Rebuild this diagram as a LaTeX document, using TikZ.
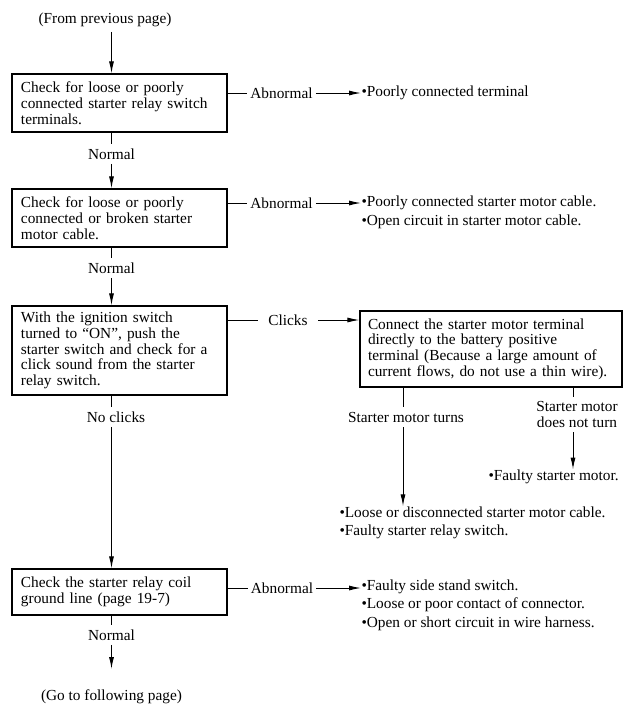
\documentclass[tikz,border=0pt]{standalone}
\usepackage{fontspec}
\setmainfont{Liberation Serif}
\usetikzlibrary{arrows.meta}

\begin{document}
\begin{tikzpicture}[x=0.75pt, y=-0.75pt, >={Latex[length=9pt,width=3.75pt]},
        every node/.style={font=\fontsize{11.5}{11.8}\selectfont},
        checkbox/.style={draw, line width=0.9pt, align=left, inner xsep=6.75pt, inner ysep=0pt, text width=147.75pt},
        answer/.style={inner xsep=2pt, inner ysep=3pt},
        result/.style={align=left, inner sep=0pt, anchor=west, font=\fontsize{11.5}{13.9}\selectfont},
        every path/.style={line width=0.75pt}]
    \useasboundingbox (0,0) rectangle (642,719);

    \coordinate (spine) at (111.5,0);
    \coordinate (lft) at (403,0);
    \coordinate (rgt) at (573,0);

    % check boxes
    \node (from) at (105,20) {(From previous page)};
    \node[checkbox, minimum height=43.5pt] (chk1) at (119.5,103) {Check for loose or poorly\\connected starter relay switch\\terminals.};
    \node[checkbox, minimum height=43.5pt] (chk2) at (119.5,218) {Check for loose or poorly\\connected or broken starter\\motor cable.};
    \node[checkbox, minimum height=66.75pt] (chk3) at (119.5,350.5) {With the ignition switch\\turned to ``ON'', push the\\starter switch and check for a\\click sound from the starter\\relay switch.};
    \node[checkbox, minimum height=57pt, text width=184.5pt, inner xsep=6pt] (chk4) at (491,349) {Connect the starter motor terminal\\directly to the battery positive\\terminal (Because a large amount of\\current flows, do not use a thin wire).};
    \node[checkbox, minimum height=34.5pt] (chk5) at (119.5,592) {Check the starter relay coil\\ground line (page 19-7)};
    \node (goto) at (111.5,697) {(Go to following page)};

    % answers
    \node[answer] (nrm1) at (111.5,154) {Normal};
    \node[answer] (nrm2) at (111.5,268) {Normal};
    \node[answer] (noclk) at (116,417) {No clicks};
    \node[answer] (nrm5) at (111.5,635) {Normal};
    \node[answer] (abn1) at (281.5,93) {Abnormal};
    \node[answer] (abn2) at (281.5,203) {Abnormal};
    \node[answer] (abn5) at (282,588) {Abnormal};
    \node[answer, inner xsep=7.5pt] (clk) at (288,320) {Clicks};
    \node (turn) at (406,417) {Starter motor turns};
    \node[align=center] (noturn) at (577,414.5) {Starter motor\\does not turn};

    % results
    \node[result] (res1) at (361,93) {\textbullet Poorly connected terminal};
    \node[result] (res2) at (361,212.5) {\textbullet Poorly connected starter motor cable.\\\textbullet Open circuit in starter motor cable.};
    \node[result] (resturn) at (339,523) {\textbullet Loose or disconnected starter motor cable.\\\textbullet Faulty starter relay switch.};
    \node[result] (resnot) at (488,477) {\textbullet Faulty starter motor.};
    \node[result] (res5) at (361,605) {\textbullet Faulty side stand switch.\\\textbullet Loose or poor contact of connector.\\\textbullet Open or short circuit in wire harness.};

    % main line
    \draw[->] (from.south -| spine) -- (chk1.north -| spine);
    \foreach \a/\n/\b in {chk1/nrm1/chk2, chk2/nrm2/chk3, chk3/noclk/chk5} {
        \draw (\a.south -| spine) -- (\n.north -| spine);
        \draw[->] (\n.south -| spine) -- (\b.north -| spine);
    }
    \draw (chk5.south -| spine) -- (nrm5.north -| spine);
    \draw[->, shorten >=12pt] (nrm5.south -| spine) -- (goto.north -| spine);

    % side branches
    \foreach \c/\a/\r in {chk1/abn1/res1, chk2/abn2/res2, chk5/abn5/res5} {
        \draw (\c.east |- \a) -- (\a);
        \draw[->] (\a) -- (\r.west |- \a);
    }
    \draw (chk3.east |- clk) -- (clk);
    \draw[->] (clk) -- (chk4.west |- clk);

    \draw (chk4.south -| lft) -- (turn.north -| lft);
    \draw[->] (turn.south -| lft) -- (resturn.north -| lft);
    \draw (chk4.south -| rgt) -- (noturn.north -| rgt);
    \draw[->] (noturn.south -| rgt) -- (resnot.north -| rgt);
\end{tikzpicture}
\end{document}
